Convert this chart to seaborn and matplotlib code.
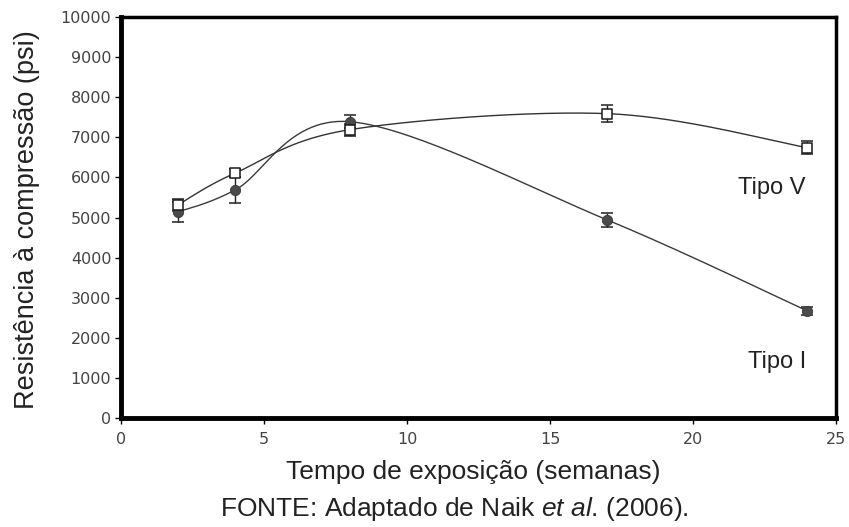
import numpy as np
import pandas as pd
import matplotlib
matplotlib.use("Agg")
import matplotlib.pyplot as plt
import seaborn as sns

semanas = [2, 4, 8, 17, 24]
tipo_v = [5320, 6110, 7190, 7590, 6740]
tipo_v_err = [150, 110, 150, 220, 160]
tipo_i = [5140, 5690, 7390, 4940, 2670]
tipo_i_err = [250, 320, 160, 170, 110]

W, H = 849, 527
X0, X1, Y0, Y1 = 121, 836, 418, 17  # axes box in pixels
XMAX, YMAX = 25, 10000


def smooth_curve(x, y, n=60):
    """Excel-style smoothed line: cubic Bezier segments computed in screen space."""
    px = np.asarray(x, float) * (X1 - X0) / XMAX
    py = np.asarray(y, float) * (Y0 - Y1) / YMAX
    P = np.column_stack([px, py])
    k = len(P)
    out = []
    t = np.linspace(0, 1, n)[:, None]
    for i in range(k - 1):
        pm = P[i - 1] if i > 0 else P[i]
        p0, p1 = P[i], P[i + 1]
        pp = P[i + 2] if i + 2 < k else P[i + 1]
        c1 = p0 + (p1 - pm) / 6
        c2 = p1 - (pp - p0) / 6
        seg = ((1 - t) ** 3) * p0 + 3 * ((1 - t) ** 2) * t * c1 + 3 * (1 - t) * t ** 2 * c2 + t ** 3 * p1
        out.append(seg if i == 0 else seg[1:])
    S = np.vstack(out)
    return S[:, 0] * XMAX / (X1 - X0), S[:, 1] * YMAX / (Y0 - Y1)


sns.set_theme(style="white")
plt.rcParams['font.family'] = ['Liberation Sans', 'DejaVu Sans']
plt.rcParams['mathtext.fontset'] = 'custom'
plt.rcParams['mathtext.rm'] = 'Liberation Sans'
plt.rcParams['mathtext.it'] = 'Liberation Sans:italic'

fig = plt.figure(figsize=(W / 100, H / 100), dpi=100)
ax = fig.add_axes([X0 / W, 1 - Y0 / H, (X1 - X0) / W, (Y0 - Y1) / H])

xv, yv = smooth_curve(semanas, tipo_v)
xi, yi = smooth_curve(semanas, tipo_i)
curves = pd.DataFrame({"x": np.concatenate([xv, xi]), "y": np.concatenate([yv, yi]),
                       "tipo": ["V"] * len(xv) + ["I"] * len(xi)})
sns.lineplot(data=curves, x="x", y="y", hue="tipo", palette={"V": "#333333", "I": "#3a3a3a"},
             linewidth=1.0, legend=False, ax=ax, sort=False, estimator=None)

ax.errorbar(semanas, tipo_i, yerr=tipo_i_err, fmt="none", ecolor="#222222", elinewidth=1.0,
            capsize=4.2, capthick=1.1, zorder=3)
ax.errorbar(semanas, tipo_v, yerr=tipo_v_err, fmt="none", ecolor="#222222", elinewidth=1.0,
            capsize=4.2, capthick=1.1, zorder=3)
pts = pd.DataFrame({"x": semanas * 2, "y": tipo_i + tipo_v, "tipo": ["I"] * 5 + ["V"] * 5})
sns.scatterplot(data=pts[pts.tipo == "I"], x="x", y="y", marker="o", s=55, color="#4a4a4a",
                edgecolor="#3a3a3a", linewidth=0.6, ax=ax, zorder=4, legend=False)
sns.scatterplot(data=pts[pts.tipo == "V"], x="x", y="y", marker="s", s=62, color="white",
                edgecolor="#1a1a1a", linewidth=1.1, ax=ax, zorder=5, legend=False)

ax.set_xlim(0, XMAX)
ax.set_ylim(0, YMAX)
ax.set_xticks([0, 5, 10, 15, 20, 25])
ax.set_yticks(range(0, 10001, 1000))
ax.tick_params(axis="both", which="major", direction="out", length=4, width=1, color="black",
               labelsize=11.5, labelcolor="#444444", left=True, bottom=True)
for lab in ax.get_xticklabels() + ax.get_yticklabels():
    lab.set_family("DejaVu Sans")
ax.tick_params(axis="x", pad=6)
ax.tick_params(axis="y", pad=3)
for side, w in [("left", 3.5), ("bottom", 3.5), ("top", 2.5), ("right", 2.5)]:
    ax.spines[side].set_color("black")
    ax.spines[side].set_linewidth(w)
ax.grid(False)
ax.set_xlabel("")
ax.set_ylabel("")

ax.text(23.95, 5736, "Tipo V", fontsize=17, color="#222222", ha="right", va="center")
ax.text(23.95, 1397, "Tipo I", fontsize=17, color="#222222", ha="right", va="center")

fig.text(27 / W, 1 - 220 / H, "Resistência à compressão (psi)", rotation=90,
         fontsize=19.5, color="#222222", ha="center", va="center")
fig.text(473 / W, 1 - 472 / H, "Tempo de exposição (semanas)", fontsize=19,
         color="#222222", ha="center", va="center")
fig.text(454 / W, 1 - 509 / H, r"FONTE: Adaptado de Naik $\mathit{et\ al}$. (2006).",
         fontsize=19, color="#222222", ha="center", va="center")

fig.savefig("out.png", dpi=100)
